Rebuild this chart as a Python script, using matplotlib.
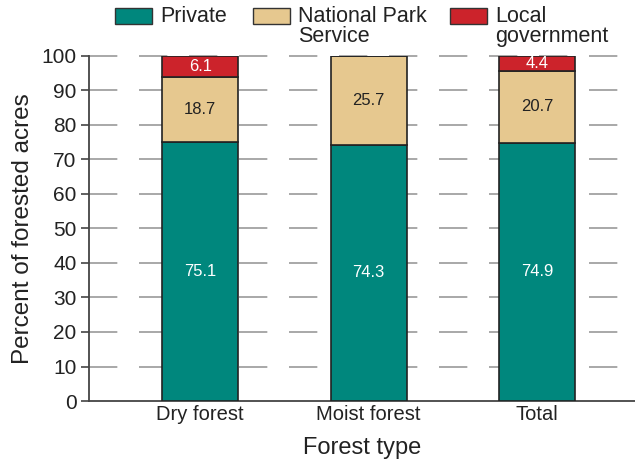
import matplotlib
matplotlib.use("Agg")
import matplotlib.pyplot as plt
from matplotlib.patches import Rectangle

categories = ["Dry forest", "Moist forest", "Total"]
private = [75.1, 74.3, 74.9]
nps = [18.7, 25.7, 20.7]
local = [6.1, 0.0, 4.4]
series_names = ["Private", "National Park\nService", "Local\ngovernment"]
colors = ["#00877d", "#e6c88f", "#cc232b"]
yticks = list(range(0, 101, 10))

plt.rcParams['font.family'] = ['Liberation Sans', 'DejaVu Sans']

fig = plt.figure(figsize=(6.35, 4.62), dpi=100)
ax = fig.add_axes([0.140, 0.132, 0.860, 0.747])

x = list(range(len(categories)))
w = 0.45
edge = "#222222"
b1 = ax.bar(x, private, w, color=colors[0], edgecolor=edge, linewidth=1.2, zorder=3)
b2 = ax.bar(x, nps, w, bottom=private, color=colors[1], edgecolor=edge, linewidth=1.2, zorder=3)
bottom3 = [p + n for p, n in zip(private, nps)]
b3 = ax.bar(x, local, w, bottom=bottom3, color=colors[2], edgecolor=edge, linewidth=1.2, zorder=3)

for i in x:
    ax.text(i, private[i] / 2, f"{private[i]:.1f}", ha="center", va="center",
            color="white", fontsize=12, zorder=4)
    ax.text(i, private[i] + nps[i] / 2, f"{nps[i]:.1f}", ha="center", va="center",
            color="#222222", fontsize=12, zorder=4)
    if local[i] > 0:
        ax.text(i, bottom3[i] + local[i] / 2, f"{local[i]:.1f}", ha="center", va="center",
                color="white", fontsize=12, zorder=4)

ax.set_xlim(-0.66, 2.58)
ax.set_ylim(0, 100)
ax.set_yticks(yticks)
ax.set_xticks(x)
ax.set_xticklabels(categories, fontsize=14.5, color="#222222")
ax.tick_params(axis="y", labelsize=15, length=6, width=1.2, color="#444444", labelcolor="#222222", pad=3)
ax.tick_params(axis="x", length=0, pad=3)

for yv in yticks[1:]:
    ax.axhline(yv, color="#999999", linewidth=1.2, linestyle=(0, (17, 13)), zorder=1, clip_on=False)

for s in ["top", "right"]:
    ax.spines[s].set_visible(False)
for s in ["left", "bottom"]:
    ax.spines[s].set_color("#444444")
    ax.spines[s].set_linewidth(1.3)

ax.set_ylabel("Percent of forested acres", fontsize=17.5, color="#222222", labelpad=5)
ax.set_xlabel("Forest type", fontsize=17, color="#222222", labelpad=9)

# legend drawn manually at top
leg_x = [0.181, 0.398, 0.709]
for xi, name, c in zip(leg_x, series_names, colors):
    fig.patches.append(Rectangle((xi, 0.949), 0.058, 0.034, transform=fig.transFigure,
                                 facecolor=c, edgecolor="#333333", linewidth=1.0))
    fig.text(xi + 0.071, 0.988, name, ha="left", va="top", fontsize=15.5,
             color="#222222", linespacing=0.95)

fig.savefig("out.png", dpi=100)
